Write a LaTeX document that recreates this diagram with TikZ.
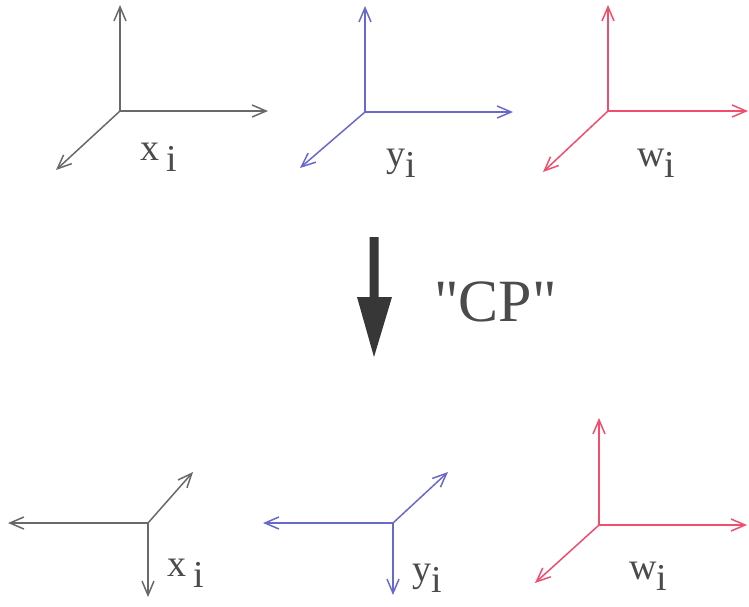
\documentclass[tikz,border=0pt]{standalone}
\usepackage{fontspec}
\setmainfont{Liberation Serif}
\newfontfamily\cpfont{Liberation Serif}[Ligatures=ResetAll]
\usetikzlibrary{arrows.meta}
\definecolor{axgray}{RGB}{105,105,105}
\definecolor{axblue}{RGB}{105,105,205}
\definecolor{axred}{RGB}{240,78,108}
\definecolor{labgray}{RGB}{75,75,75}
\definecolor{bigarrow}{RGB}{55,55,55}
\tikzset{
  axis/.style={line width=1.5pt,-{Straight Barb[length=14pt,width=12pt,line width=1.5pt]}},
  lab/.style={anchor=base west,inner sep=0pt,text=labgray,font=\fontsize{38}{42}\selectfont},
}
\newcommand{\sub}[1]{\raisebox{-11pt}{#1}}
\begin{document}
\begin{tikzpicture}[x=1pt,y=-1pt]
\useasboundingbox (0,0) rectangle (749,606);
% top row
\coordinate (o1) at (120,111);
\coordinate (u1) at (120,5);
\coordinate (r1) at (268,111);
\coordinate (d1) at (56,170);
\draw[axis,axgray] (o1) -- (u1);
\draw[axis,axgray] (o1) -- (r1);
\draw[axis,axgray] (o1) -- (d1);
\node[lab] (l1) at (140,160) {x\hspace{7pt}\sub{i}};
\coordinate (o2) at (365,112);
\coordinate (u2) at (365,6);
\coordinate (r2) at (513,112);
\coordinate (d2) at (300,168);
\draw[axis,axblue] (o2) -- (u2);
\draw[axis,axblue] (o2) -- (r2);
\draw[axis,axblue] (o2) -- (d2);
\node[lab] (l2) at (386,166) {y\sub{i}};
\coordinate (o3) at (608,111);
\coordinate (u3) at (608,5);
\coordinate (r3) at (748,111);
\coordinate (d3) at (543,172);
\draw[axis,axred] (o3) -- (u3);
\draw[axis,axred] (o3) -- (r3);
\draw[axis,axred] (o3) -- (d3);
\node[lab] (l3) at (637,166) {w\sub{i}};
% big arrow
\coordinate (a0) at (374,237);
\coordinate (a1) at (374,357);
\fill[bigarrow] (369.5,237) -- (378.5,237) -- (378.5,297) -- (392,297) -- (a1) -- (357,297) -- (369.5,297) -- cycle;
\node[anchor=base west,inner sep=0pt,text=labgray,font=\cpfont\fontsize{60}{66}\selectfont] (cp) at (434,321) {"CP"};
% bottom row
\coordinate (o4) at (148,523);
\coordinate (lf4) at (8,523);
\coordinate (dn4) at (148,597);
\coordinate (dg4) at (193,472);
\draw[axis,axgray] (o4) -- (lf4);
\draw[axis,axgray] (o4) -- (dn4);
\draw[axis,axgray] (o4) -- (dg4);
\node[lab] (l4) at (167,576) {x\hspace{7pt}\sub{i}};
\coordinate (o5) at (393,523);
\coordinate (lf5) at (263,523);
\coordinate (dn5) at (393,595);
\coordinate (dg5) at (448,472);
\draw[axis,axblue] (o5) -- (lf5);
\draw[axis,axblue] (o5) -- (dn5);
\draw[axis,axblue] (o5) -- (dg5);
\node[lab] (l5) at (412,581) {y\sub{i}};
\coordinate (o6) at (599,525);
\coordinate (u6) at (599,418);
\coordinate (r6) at (747,525);
\coordinate (d6) at (535,583);
\draw[axis,axred] (o6) -- (u6);
\draw[axis,axred] (o6) -- (r6);
\draw[axis,axred] (o6) -- (d6);
\node[lab] (l6) at (629,579) {w\sub{i}};
\end{tikzpicture}
\end{document}
